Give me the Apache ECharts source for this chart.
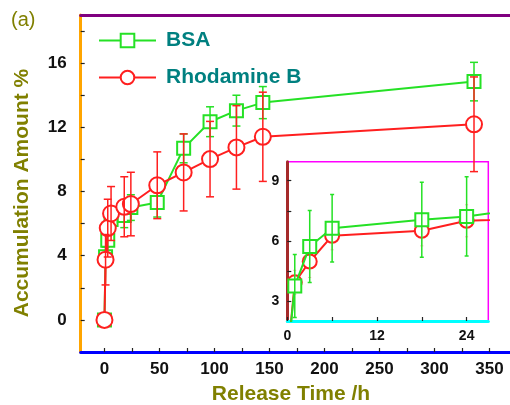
<!DOCTYPE html>
<html>
<head>
<meta charset="utf-8">
<script src="https://cdn.jsdelivr.net/npm/echarts@6/dist/echarts.min.js"></script>
<style>
html,body{margin:0;padding:0;background:#fff;}
#chart{width:510px;height:405px;}
</style>
</head>
<body>
<div id="chart"></div>
<script>
var releaseTime = [0, 1, 3, 6, 18, 24, 48, 72, 96, 120, 144, 336];
var bsaMean     = [0, 3.93, 4.97, 6.25, 6.5, 7.0, 7.31, 10.69, 12.35, 13.04, 13.54, 14.85];
var bsaErr      = [0, 0.6, 0.8, 0.7, 0.75, 0.8, 0.9, 0.9, 0.93, 0.96, 1.0, 1.2];
var rhbMean     = [0, 3.75, 5.72, 6.63, 7.05, 7.22, 8.39, 9.19, 10.02, 10.75, 11.41, 12.19];
var rhbErr      = [0, 1.57, 1.8, 1.68, 1.87, 1.98, 2.08, 2.4, 2.35, 2.6, 2.78, 2.95];
var mainXTicks  = [0, 25, 50, 75, 100, 125, 150, 175, 200, 225, 250, 275, 300, 325, 350, 375];
var mainXLabels = [0, 50, 100, 150, 200, 250, 300, 350];
var mainYTicks  = [0, 2, 4, 6, 8, 10, 12, 14, 16, 18];
var mainYLabels = [0, 4, 8, 12, 16];
var insetXTicks = [0, 6, 12, 18, 24];
var insetXLabels= [0, 12, 24];
var insetYTicks = [3, 4.5, 6, 7.5, 9];
var insetYLabels= [3, 6, 9];
var GREEN = '#25e125', RED = '#ff1f1f', PINK = '#f7a8a8';
var FONT = 'Liberation Sans, Arial, sans-serif';
function pts(mean){ return releaseTime.map(function(t,i){ return [t, mean[i]]; }); }
function errs(mean, err, maxT){
  var out = [];
  releaseTime.forEach(function(t,i){
    if (err[i] > 0 && (maxT === undefined || t <= maxT)) out.push([t, mean[i]-err[i], mean[i]+err[i]]);
  });
  return out;
}
function errRender(color, cap, lw){
  return function(params, api){
    var x = api.value(0);
    var a = api.coord([x, api.value(1)]);
    var b = api.coord([x, api.value(2)]);
    var st = {stroke: color, lineWidth: lw};
    return {type:'group', children:[
      {type:'line', shape:{x1:a[0],y1:a[1],x2:b[0],y2:b[1]}, style:st},
      {type:'line', shape:{x1:a[0]-cap,y1:a[1],x2:a[0]+cap,y2:a[1]}, style:st},
      {type:'line', shape:{x1:b[0]-cap,y1:b[1],x2:b[0]+cap,y2:b[1]}, style:st}
    ]};
  };
}
function axisCommon(ticks, labels, size, margin, col){
  return {
    axisLine:{show:true, onZero:false, lineStyle:{color:col, width:3}},
    axisTick:{show:true, inside:true, length:4, customValues:ticks, lineStyle:{color:'#222', width:1.2}},
    axisLabel:{customValues:labels, fontFamily:FONT, fontWeight:'bold', fontSize:size, color:'#111', margin:margin},
    splitLine:{show:false}
  };
}
var chart = echarts.init(document.getElementById('chart'), null, {renderer:'canvas'});
chart.setOption({
  animation:false, backgroundColor:'#fff',
  graphic:[
    {type:'text', left:11, top:10, style:{text:'(a)', font:'20px ' + FONT, fill:'olive'}},
    {type:'text', x:291, y:394, style:{text:'Release Time /h', font:'bold 21px ' + FONT, fill:'olive', align:'center', verticalAlign:'middle'}},
    {type:'text', x:22, y:193, rotation:Math.PI/2, style:{text:'Accumulation Amount %', font:'bold 21px ' + FONT, fill:'olive', align:'center', verticalAlign:'middle'}}
  ],
  legend:{
    data:['BSA','Rhodamine B'], orient:'vertical', left:93, top:25,
    itemWidth:57, itemHeight:17, itemGap:16, lineStyle:{width:2},
    textStyle:{fontFamily:FONT, fontWeight:'bold', fontSize:21, color:'teal', lineHeight:17, padding:[0,0,0,5]}
  },
  grid:[
    {left:80.7, top:15, width:441.7, height:337, outerBoundsMode:'none', containLabel:false, show:false},
    {left:287.3, top:161.7, width:201, height:159.3, outerBoundsMode:'none', containLabel:false, show:true, borderColor:'magenta', borderWidth:1.5, backgroundColor:'#fff', z:3}
  ],
  xAxis:[
    Object.assign({type:'value', gridIndex:0, min:-21.6, max:380}, axisCommon(mainXTicks, mainXLabels, 17, 9, 'blue')),
    Object.assign({type:'value', gridIndex:1, min:0, max:26.9, z:4}, axisCommon(insetXTicks, insetXLabels, 14, 8, 'cyan')),
    {type:'value', gridIndex:0, position:'top', min:-21.6, max:380,
     axisLine:{show:true, onZero:false, lineStyle:{color:'purple', width:3}},
     axisTick:{show:false}, axisLabel:{show:false}, splitLine:{show:false}}
  ],
  yAxis:[
    Object.assign({type:'value', gridIndex:0, min:-2, max:19}, axisCommon(mainYTicks, mainYLabels, 17, 14, 'orange')),
    Object.assign({type:'value', gridIndex:1, min:2, max:9.95, z:4}, axisCommon(insetYTicks, insetYLabels, 14, 8, 'brown'))
  ],
  series:[
    {name:'BSA', type:'line', xAxisIndex:0, yAxisIndex:0, data:pts(bsaMean), z:2,
     symbol:'rect', symbolSize:13, lineStyle:{color:GREEN, width:2}, itemStyle:{color:'#fff', borderColor:GREEN, borderWidth:2}},
    {name:'BSA err', type:'custom', xAxisIndex:0, yAxisIndex:0, data:errs(bsaMean,bsaErr), z:3, clip:true, renderItem:errRender(GREEN, 4, 1.5)},
    {name:'Rhodamine B', type:'line', xAxisIndex:0, yAxisIndex:0, data:pts(rhbMean), z:4,
     symbol:'circle', symbolSize:16, lineStyle:{color:RED, width:2}, itemStyle:{color:'#fff', borderColor:RED, borderWidth:2}},
    {name:'Rhodamine B err', type:'custom', xAxisIndex:0, yAxisIndex:0, data:errs(rhbMean,rhbErr), z:10, clip:true, renderItem:errRender(RED, 4, 1.5)},
    {name:'inset red', type:'line', xAxisIndex:1, yAxisIndex:1, data:pts(bsaMean), z:5, clip:true,
     symbol:'circle', symbolSize:14, lineStyle:{color:RED, width:2}, itemStyle:{color:'#fff', borderColor:RED, borderWidth:2}},
    {name:'inset red err', type:'custom', xAxisIndex:1, yAxisIndex:1, data:errs(bsaMean,bsaErr,24), z:6, clip:true, renderItem:errRender(PINK, 1.5, 1)},
    {name:'inset green', type:'line', xAxisIndex:1, yAxisIndex:1, data:pts(rhbMean), z:7, clip:true,
     symbol:'rect', symbolSize:13, lineStyle:{color:GREEN, width:2}, itemStyle:{color:'#fff', borderColor:GREEN, borderWidth:2}},
    {name:'inset green err', type:'custom', xAxisIndex:1, yAxisIndex:1, data:errs(rhbMean,rhbErr,24), z:8, clip:true, renderItem:errRender(GREEN, 2, 1.5)}
  ]
});
</script>
</body>
</html>
